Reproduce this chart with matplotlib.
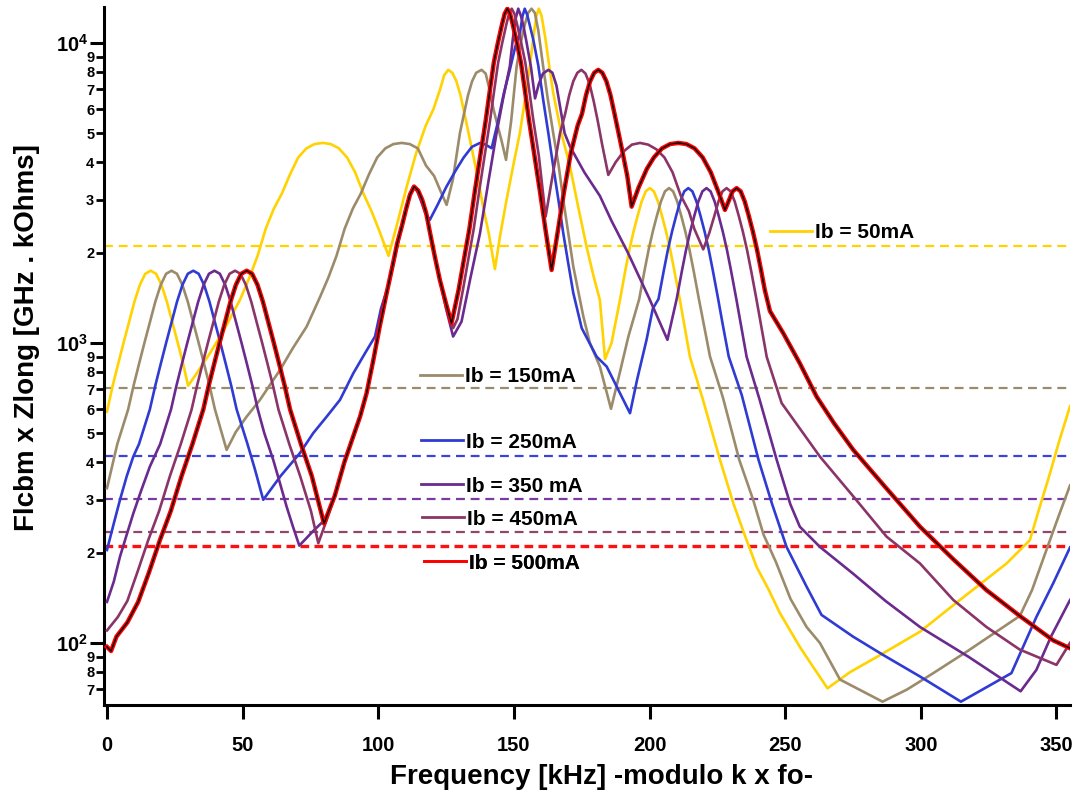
import matplotlib
matplotlib.use('Agg')
import matplotlib.pyplot as plt
import matplotlib.ticker as mticker
from matplotlib.lines import Line2D
import numpy as np

plt.rcParams['font.family'] = ['Liberation Sans', 'DejaVu Sans']
plt.rcParams['font.weight'] = 'bold'
plt.rcParams['mathtext.fontset'] = 'custom'
plt.rcParams['mathtext.rm'] = 'Liberation Sans:bold'
plt.rcParams['mathtext.bf'] = 'Liberation Sans:bold'
plt.rcParams['mathtext.it'] = 'Liberation Sans:bold'

# ---------------- data ----------------
labels = ['Ib = 50mA', 'Ib = 150mA', 'Ib = 250mA', 'Ib = 350 mA', 'Ib = 450mA', 'Ib = 500mA']
thresholds = [2105, 706, 421, 302, 234, 211]

x_50 = [0, 2.1, 4.1, 6.1, 8.1, 10.1, 12.1, 14.1, 16.1, 18.1, 20.1, 22.1, 24.1, 26.1, 28.1, 29.9,
        33, 38, 43, 49, 52.5, 55.5, 58.5, 61.5, 64.5, 67.5, 70.5, 73.5, 76.5, 79.5, 82.5, 85.5, 88.5, 91.5, 94.5,
        97.5, 100.5, 103.8,
        107, 110.5, 114, 117.5, 120.3, 122.8, 124.3, 125.8, 127.3, 128.8, 130.3, 131.8, 133.3, 134.8, 136.8, 138.8,
        140.8, 143,
        145, 147.3, 150, 152.2, 154, 155.9, 157.2, 158.3, 159.2, 160.2, 161.5, 163, 164.5, 167.5, 170.7, 173.5, 176.8,
        179.5, 181.7, 183.6,
        186, 189.1, 191.1, 192.6, 194.1, 195.6, 197.1, 198.6, 200.1, 201.6, 203.1, 204.6, 206.1, 207.6, 209.1, 211.2,
        214.9, 219.7, 226, 231, 235, 239.5, 244, 248, 255.4, 260, 265.6,
        274, 284.9, 299.7, 314.4, 331.6, 340.2, 344, 347.6, 351, 355]
z_50 = [590, 720, 850, 1000, 1170, 1370, 1560, 1700, 1740, 1700, 1560, 1370, 1170, 1000, 850, 720,
        790, 925, 1100, 1390, 1650, 1950, 2400, 2800, 3150, 3650, 4150, 4450, 4600, 4640, 4600, 4450, 4150, 3700, 3150,
        2750, 2350, 1950,
        2500, 3320, 4300, 5300, 6000, 7000, 7800, 8130, 7950, 7450, 6700, 5800, 5000, 4300, 3500, 2800,
        2300, 1762,
        2300, 3000, 4000, 5000, 6400, 8360, 10500, 12300, 13000, 12300, 10500, 8400, 6810, 5000, 3870, 2900, 2090,
        1650, 1390, 883,
        1000, 1390, 1750, 2050, 2350, 2650, 2960, 3200, 3280, 3200, 2960, 2650, 2350, 2050, 1750, 1390,
        898, 646, 407, 290, 230, 179, 150, 126, 97, 84, 70.6,
        80, 91, 109, 139, 184, 220, 287, 367, 470, 615]

x_150 = [0, 3.8, 7.8, 9.8, 11.8, 13.8, 15.8, 17.8, 19.8, 21.8, 23.8, 25.8, 27.8, 29.8, 31.8, 33.8, 35.8, 37.8, 39.8, 44.1,
         47.5, 51.5, 56.4, 63.8, 68.5, 73.6, 78.5, 81.6, 84.6, 87.6, 90.6, 93.6, 96.6, 99.6, 102.6, 105.6, 108.6, 111.6,
         114.6, 117.6, 120.6, 123, 125.2,
         127.5, 130.1, 131.6, 133.1, 134.6, 136.1, 138.1, 139.6, 141, 142.5, 144, 145.5, 147.1,
         149, 151, 152.5, 154, 155.3, 156.5, 157.7, 159, 160.8, 162.5, 164.5, 166.5, 168.2, 171.9, 175.6, 178, 181.7, 185.8,
         189.1, 192.2, 196.2, 198.2, 199.7, 201.2, 202.7, 204.2, 205.7, 207.2, 208.7, 210.2, 211.7, 213.2, 214.7, 216.2,
         218.2, 222.3, 227, 233.1, 238.2, 242, 246.6, 252, 257.9,
         262.8, 270.2, 285.9, 295, 304.6, 316.9, 336.5, 341, 346.3, 350.5, 355]
z_150 = [328, 460, 600, 720, 850, 1000, 1170, 1370, 1560, 1700, 1740, 1700, 1560, 1370, 1170, 1000, 850, 720, 600, 440,
         505, 568, 646, 813, 960, 1133, 1420, 1650, 1950, 2400, 2800, 3150, 3650, 4150, 4450, 4600, 4640, 4600,
         4450, 3900, 3600, 3200, 2884,
         3500, 5000, 5800, 6700, 7450, 7950, 8130, 7900, 7000, 6000, 5300, 4700, 4074,
         5500, 8330, 10000, 11500, 12600, 13000, 12600, 11000, 8330, 6500, 5000, 3900, 3000, 1796, 1225, 1000, 834, 603,
         800, 1050, 1400, 1750, 2050, 2350, 2650, 2960, 3200, 3280, 3200, 2960, 2650, 2350, 2050, 1750,
         1400, 900, 660, 407, 300, 230, 186, 140, 113,
         100, 75.5, 63.7, 70, 79.3, 93.5, 123, 150, 204, 260, 335]

x_250 = [0, 2.5, 4.8, 7.3, 9.7, 11.8, 15.8, 17.8, 19.8, 21.8, 23.8, 25.8, 27.8, 29.8, 31.8, 33.8, 35.8, 37.8, 39.8, 41.8,
         43.8, 45.8, 47.8, 51.8, 54.5, 57.6,
         64, 71.1, 76, 81, 85.9, 90.8, 95, 98.8,
         101, 104.3, 107, 108.5, 110, 111.5, 112.9, 114.4, 115.9, 117.4, 119,
         122, 125, 128.5, 131.5, 134.5, 137.5, 139.5, 141.8,
         144, 146.3, 148.5, 150.5, 152.2, 153.2, 154, 154.9, 155.8, 157.1, 159, 160.8, 162.7, 164.5, 166.4, 168.2, 170,
         171.9, 175, 180.5, 184.2, 192.8,
         195.5, 198.9, 201.2, 203.3, 205.3, 206.8, 208.3, 209.8, 211.3, 212.8, 214.3, 215.8, 217.3, 218.8, 220.3, 221.8,
         223.3, 225.3, 227, 229.2, 234, 240.2, 245.2, 250.5, 257.9, 263.4,
         275, 286.1, 300, 314.8, 333.4, 342.6, 348.8, 355]
z_250 = [204, 250, 300, 360, 418, 460, 600, 720, 850, 1000, 1170, 1370, 1560, 1700, 1740, 1700, 1560, 1370, 1170, 1000,
         850, 720, 600, 460, 380, 300,
         360, 429, 500, 568, 646, 792, 920, 1050,
         1300, 1622, 2100, 2400, 2750, 3100, 3320, 3200, 2950, 2700, 2570,
         2900, 3300, 3750, 4150, 4500, 4640, 4580, 4456,
         5400, 6800, 8130, 9700, 10770, 12300, 13000, 12400, 11500, 10300, 8400, 6460, 5000, 3875, 3000, 2320, 1850,
         1466, 1120, 900, 834, 583,
         760, 1024, 1300, 1400, 1750, 2050, 2350, 2650, 2960, 3200, 3280, 3200, 2960, 2650, 2350, 2050,
         1750, 1400, 1150, 900, 670, 407, 290, 209, 154, 124,
         105, 91.2, 77, 63.7, 79.3, 122, 158, 208]

x_350 = [0, 2.5, 4.8, 7.3, 9.7, 12.5, 15.8, 19.6, 23.6, 25.6, 27.6, 29.6, 31.6, 33.6, 35.6, 37.6, 39.6, 41.6, 43.6, 45.6,
         47.6, 49.6, 51.6, 53.6, 55.6, 58, 61.3, 63.8, 66.2, 68.5, 70.9,
         76, 81, 84, 87.5, 90.5, 93.3, 95.7, 98.2, 100.5, 103.1, 105.5, 107, 108.7, 110.2, 111.7, 113.2, 114.7, 116.2,
         117.7, 119.2, 120.8, 122.7, 125, 127.6,
         130.7, 134, 137.5, 140.5, 143.6, 146, 148.5, 149.6, 150.6, 151.6, 152.6, 153.6, 154.7, 156.3, 157.8, 159.2,
         160.7, 162.7, 164.2, 165.7, 167.2, 168.7, 170.7,
         176, 181.7, 186, 192, 200, 206.6,
         210, 212, 213.5, 215, 216.5, 218, 219.5, 221, 222.5, 224, 225.5, 227, 228.5, 230, 232, 235.8, 240.6, 246.9,
         251.9, 255.4, 262.8, 275.1, 287, 299.7, 317.5, 336.8, 342.6, 348, 355]
z_350 = [137, 160, 194, 230, 270, 320, 387, 460, 600, 720, 850, 1000, 1170, 1370, 1560, 1700, 1740, 1700, 1560, 1370,
         1170, 1000, 850, 720, 600, 500, 407, 340, 285, 245, 211,
         236, 261, 310, 400, 480, 568, 680, 878, 1130, 1466, 1850, 2150, 2450, 2780, 3120, 3320, 3220, 3000,
         2700, 2300, 1950, 1622, 1300, 1050,
         1178, 1650, 2320, 3400, 5000, 6500, 8360, 10300, 12000, 13000, 12300, 11300, 10000, 8300, 6530, 7300,
         7900, 8130, 7950, 7200, 6000, 5000, 4510,
         3700, 3090, 2550, 2000, 1400, 1024,
         1400, 1750, 2050, 2350, 2650, 2960, 3200, 3280, 3200, 2960, 2650, 2350, 2050, 1750, 1400, 898, 646, 407,
         290, 244, 209, 170, 138, 113, 90, 69, 81.3, 105, 139]

x_450 = [0, 4, 7.5, 11.2, 15.2, 19.2, 23.2, 27.2, 31.2, 33.2, 35.2, 37.2, 39.2, 41.2, 43.2, 45.2, 47.2, 49.2, 51.2, 53.2,
         55.2, 57.2, 59.2, 61.2, 63.2, 67.2, 71.2, 75.2, 77.9,
         81, 84, 87.5, 90.5, 93.3, 95.7, 98.2, 100.5, 103.1, 105.5, 107, 108.7, 110.2, 111.7, 113.2, 114.7, 116.2,
         117.7, 119.2, 120.8, 122.7, 125, 127.6,
         129.2, 131.2, 133.2, 135.2, 137.2, 139.2, 141.2, 142.7, 144.2, 145.7, 147.2, 148.2, 149.2, 150.2, 151.2,
         152.7, 154.2, 155.7, 157.2, 159.2, 161.7,
         164, 167, 168.9, 170.4, 171.9, 173.4, 174.9, 176.4, 177.9, 179.4, 180.9, 182.5, 184.8,
         187.5, 190.5, 193.5, 196.5, 199.5, 202.5, 205.5, 208.5, 211.5, 214.5, 216.5, 219.8,
         222, 223.9, 225.4, 226.9, 228.4, 229.9, 231.4, 232.9, 234.4, 235.9, 237.4, 239.4, 243.2, 248.7,
         262.8, 275.1, 287.4, 299.7, 312, 324.2, 336.5, 350, 355]
z_450 = [110, 122, 138, 172, 220, 275, 360, 460, 600, 720, 850, 1000, 1170, 1370, 1560, 1700, 1740, 1700, 1560, 1370,
         1170, 1000, 850, 720, 600, 460, 360, 275, 215,
         257, 310, 400, 480, 568, 680, 878, 1130, 1466, 1850, 2150, 2450, 2780, 3120, 3320, 3220, 3000,
         2700, 2300, 1950, 1622, 1350, 1120,
         1200, 1500, 1900, 2400, 3200, 4200, 5500, 6900, 8600, 10000, 11500, 12500, 13000, 12500, 11500,
         10000, 8600, 6900, 5500, 4200, 2637,
         3500, 5000, 5800, 6700, 7450, 7950, 8130, 7900, 7300, 6400, 5500, 4600, 3630,
         4000, 4350, 4580, 4640, 4580, 4420, 4150, 3700, 3100, 2750, 2400, 2050,
         2320, 2650, 2960, 3200, 3280, 3200, 2960, 2650, 2350, 2050, 1750, 1400, 898, 630,
         418, 308, 226, 184, 139, 113, 95, 84.5, 100]

x_500 = [0, 1.5, 3.5, 7.5, 11.5, 15.5, 19.5, 23.5, 27.5, 31.5, 35.5, 37.5, 39.5, 41.5, 43.5, 45.5, 47.5, 49.5, 51.5, 53.5,
         55.5, 57.5, 59.5, 61.5, 63.5, 65.5, 67.5, 71.5, 75.5, 80,
         84, 87.5, 90.5, 93.3, 95.7, 98.2, 100.5, 103.1, 105.5, 107, 108.7, 110.2, 111.7, 113.2, 114.7, 116.2,
         117.7, 119.2, 120.8, 122.7, 125, 127,
         129.6, 131.6, 133.6, 135.6, 137.6, 139.6, 141.1, 142.6, 144.1, 145.6, 146.6, 147.6, 148.6, 149.6, 151.1,
         152.6, 154.1, 155.6, 157.6, 159.6, 161.6, 163.9,
         166, 168.5, 171, 173.5, 175.1, 176.6, 178.1, 179.6, 181.1, 182.6, 184.1, 185.6, 187.1, 188.6, 190.1, 191.8, 193.4,
         196, 199, 201.6, 204.6, 207.6, 210.6, 213.6, 216.6, 219.6, 222.6, 225.6, 227.8,
         229.1, 230.6, 232.1, 233.6, 235.1, 236.6, 238.1, 239.6, 241.1, 242.5, 244.4, 249.3, 255.4, 261.6, 268, 275.1,
         287, 299.7, 312, 324.2, 336.5, 348.8, 355]
z_500 = [97, 94, 105, 117, 137, 172, 220, 275, 360, 460, 600, 720, 850, 1000, 1170, 1370, 1560, 1700, 1740, 1700,
         1560, 1370, 1170, 1000, 850, 720, 600, 460, 360, 250,
         310, 400, 480, 568, 680, 878, 1130, 1466, 1850, 2150, 2450, 2780, 3120, 3320, 3220, 3000,
         2700, 2300, 1950, 1622, 1350, 1164,
         1500, 1900, 2400, 3200, 4200, 5500, 6900, 8600, 10000, 11500, 12500, 13000, 12500, 11500, 10000,
         8600, 6900, 5500, 4200, 3200, 2400, 1750,
         2300, 3200, 4300, 5300, 5800, 6700, 7450, 7950, 8130, 7950, 7450, 6700, 5800, 5000, 4300, 3600, 2845,
         3300, 3800, 4150, 4450, 4600, 4640, 4600, 4450, 4150, 3700, 3150, 2775,
         2960, 3200, 3280, 3200, 2960, 2650, 2350, 2050, 1750, 1500, 1276, 1077, 855, 662, 540, 440,
         330, 244, 190, 150, 123, 102, 96]

series_x = [x_50, x_150, x_250, x_350, x_450, x_500]
series_z = [z_50, z_150, z_250, z_350, z_450, z_500]

# ---------------- style ----------------
colors = ['#FFD200', '#9C8B6B', '#2F3BD2', '#6A2A8E', '#8A3468', '#FF0000']
dash_colors = ['#FFD200', '#9C8B6B', '#3A45D6', '#7A3A9E', '#94456E', '#FF1010']
label_anchor = [(0.6894, 0.6767), (0.3271, 0.4707), (0.3282, 0.3763),
                (0.3282, 0.3133), (0.3292, 0.2661), (0.3313, 0.2031)]

fig = plt.figure(figsize=(10.74, 7.94), dpi=100)
ax = fig.add_axes([104 / 1074, (794 - 705) / 794, 966 / 1074, 698.3 / 794])

for i, thr in enumerate(thresholds):
    lw = 2.4 if i == 5 else 1.6
    d = (2.6, 1.6) if i == 5 else (4.0, 2.6)
    ax.axhline(thr, color=dash_colors[i], lw=lw, dashes=d, zorder=1)

for i in range(6):
    if i == 5:
        ax.plot(series_x[i], series_z[i], color=colors[i], lw=3.2, zorder=8, solid_joinstyle='round')
        ax.plot(series_x[i], series_z[i], color='black', lw=1.0, zorder=9, solid_joinstyle='round')
    else:
        ax.plot(series_x[i], series_z[i], color=colors[i], lw=1.9, zorder=2 + i, solid_joinstyle='round')

ax.set_yscale('log')
ax.set_xlim(-1.1, 355)
ax.set_ylim(62.1, 13200)

for s in ['top', 'right']:
    ax.spines[s].set_visible(False)
for s in ['left', 'bottom']:
    ax.spines[s].set_linewidth(2.2)

ax.set_xticks(np.arange(0, 351, 50))
ax.tick_params(axis='x', length=10, width=2.2, pad=12, labelsize=14.5)
ax.yaxis.set_major_locator(mticker.LogLocator(base=10, numticks=10))
ax.yaxis.set_minor_locator(mticker.LogLocator(base=10, subs=np.arange(2, 10), numticks=20))
ax.yaxis.set_major_formatter(mticker.FuncFormatter(lambda v, p: r'$\mathbf{10^{%d}}$' % round(np.log10(v))))
ax.yaxis.set_minor_formatter(mticker.FuncFormatter(
    lambda v, p: '%d' % round(v / 10 ** np.floor(np.log10(v) + 1e-9))))
ax.tick_params(axis='y', which='major', length=10, width=2.2, pad=1.5, labelsize=14.5)
ax.tick_params(axis='y', which='minor', length=5.5, width=2.0, pad=1.5, labelsize=10.5)

ax.set_xlabel('Frequency [kHz] -modulo k x fo-', fontsize=20, fontweight='bold')
ax.xaxis.set_label_coords(0.5145, -0.084)
ax.set_ylabel('Flcbm x Zlong [GHz . kOhms]', fontsize=20, fontweight='bold')
ax.yaxis.set_label_coords(-0.066, 0.5256)

for i in range(6):
    h = Line2D([], [], color=colors[i], lw=2.0)
    leg = ax.legend(handles=[h], labels=[labels[i]], loc='center left',
                    bbox_to_anchor=label_anchor[i], frameon=False, borderpad=0,
                    borderaxespad=0, handlelength=2.0, handletextpad=0.15,
                    prop={'weight': 'bold', 'size': 15})
    ax.add_artist(leg)

fig.savefig('out.png', dpi=100)
